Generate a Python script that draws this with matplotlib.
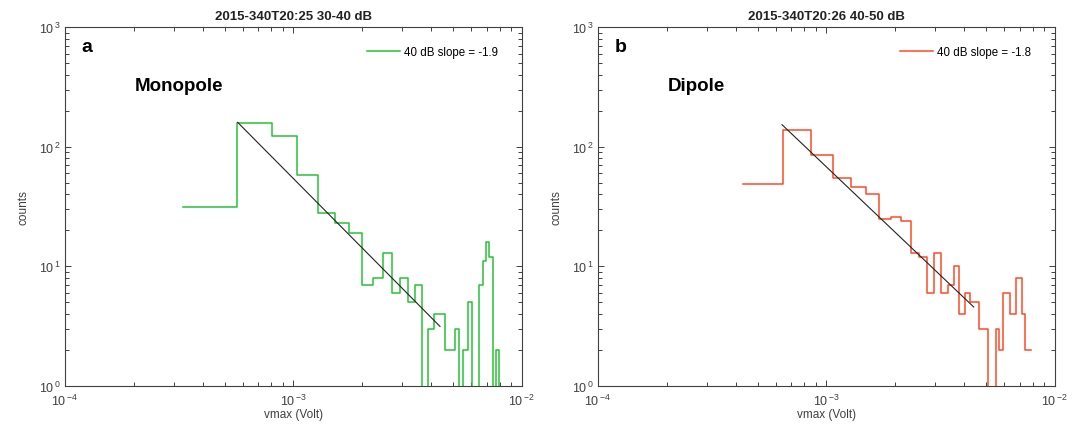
import numpy as np
import matplotlib
matplotlib.use("Agg")
import matplotlib.pyplot as plt
from matplotlib.ticker import LogLocator, FuncFormatter, NullFormatter

plt.rcParams['font.family'] = ['Liberation Sans', 'DejaVu Sans']
plt.rcParams['mathtext.fontset'] = 'custom'
plt.rcParams['mathtext.rm'] = 'Liberation Sans'

# panel a: monopole, 30-40 dB histogram (linear bins)
a_bin_start = 3.30e-4
a_bin_width = 2.37e-4
a_counts = [31, 159, 122, 58, 28, 23, 19, 7, 8, 13, 6, 8, 5, 7, 0, 3, 4, 4, 2, 2,
            3, 0, 2, 5, 0, 0, 7, 11, 16, 12, 0, 2, 0, 0, 0]
a_fit = dict(x0=5.70e-4, x1=4.38e-3, y0=160, slope=-1.93)

# panel b: dipole, 40-50 dB histogram
b_bin_start = 4.316e-4
b_bin_width = 2.113e-4
b_counts = [49, 138, 86, 55, 46, 40, 25, 26, 24, 13, 12, 6, 13, 6, 7, 10, 4, 6, 5, 5,
            3, 3, 0, 0, 3, 2, 6, 6, 4, 4, 8, 8, 4, 2, 2]
b_fit = dict(x0=6.39e-4, x1=4.41e-3, y0=153, slope=-1.82)

panels = [
    dict(counts=a_counts, start=a_bin_start, width=a_bin_width, fit=a_fit,
         color='#26c234', title='2015-340T20:25 30-40 dB', letter='a',
         name='Monopole', label='40 dB slope = -1.9'),
    dict(counts=b_counts, start=b_bin_start, width=b_bin_width, fit=b_fit,
         color='#ff4a26', title='2015-340T20:26 40-50 dB', letter='b',
         name='Dipole', label='40 dB slope = -1.8'),
]

axcol = '#404040'
fig = plt.figure(figsize=(10.79, 4.31), dpi=100)
lefts = [0.0602, 0.5542]

for left, p in zip(lefts, panels):
    ax = fig.add_axes([left, 0.1032, 0.4235, 0.8311])
    counts = np.array(p['counts'], dtype=float)
    edges = p['start'] + p['width'] * np.arange(len(counts) + 1)
    yy = np.append(counts, counts[-1])
    ax.step(edges, yy, where='post', color=p['color'], lw=1.1, label=p['label'])

    f = p['fit']
    fx = np.array([f['x0'], f['x1']])
    fy = f['y0'] * (fx / f['x0']) ** f['slope']
    ax.plot(fx, fy, color='#222222', lw=0.8)

    ax.set_xscale('log')
    ax.set_yscale('log')
    ax.set_xlim(1e-4, 1e-2)
    ax.set_ylim(1, 1e3)

    fmt = FuncFormatter(lambda v, pos: r'$\mathregular{10^{\,{%d}}}$' % round(np.log10(v)))
    for axis in (ax.xaxis, ax.yaxis):
        axis.set_major_locator(LogLocator(base=10, numticks=10))
        axis.set_minor_locator(LogLocator(base=10, subs=np.arange(2, 10), numticks=20))
        axis.set_major_formatter(fmt)
        axis.set_minor_formatter(NullFormatter())

    ax.tick_params(which='both', direction='in', top=True, right=True,
                   colors=axcol, labelsize=9)
    ax.tick_params(which='major', length=4, width=0.7)
    ax.tick_params(which='minor', length=3, width=0.7)
    ax.tick_params(axis='x', pad=5)
    ax.tick_params(axis='y', pad=3)
    for s in ax.spines.values():
        s.set_color(axcol)
        s.set_linewidth(0.8)

    ax.set_title(p['title'], fontsize=9.5, fontweight='bold', color='#222222', pad=6)
    ax.set_xlabel('vmax (Volt)', fontsize=8.5, color=axcol, labelpad=0)
    ax.set_ylabel('counts', fontsize=8.5, color=axcol, labelpad=7)

    ax.text(0.037, 0.935, p['letter'], transform=ax.transAxes, fontsize=14,
            fontweight='bold', va='baseline')
    ax.text(0.153, 0.825, p['name'], transform=ax.transAxes, fontsize=13.5,
            fontweight='bold', va='baseline')

    ax.legend(loc='center right', bbox_to_anchor=(0.947, 0.93), frameon=False,
              fontsize=8.3, handlelength=2.9, handletextpad=0.3,
              borderpad=0, borderaxespad=0)

fig.savefig('out.png', dpi=100)
